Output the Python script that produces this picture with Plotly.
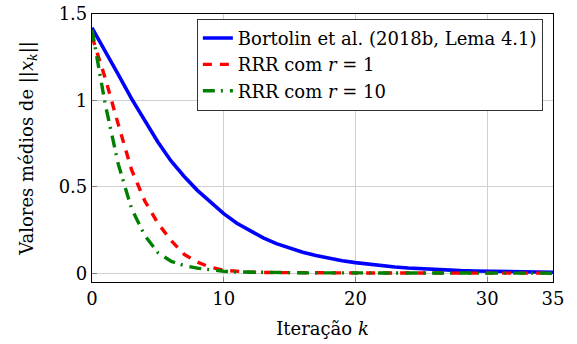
import plotly.graph_objects as go

k = list(range(36))

bortolin = [1.42, 1.29, 1.15, 1.01, 0.88, 0.76, 0.65, 0.56, 0.48, 0.41,
            0.345, 0.29, 0.245, 0.205, 0.172, 0.145, 0.122, 0.103, 0.087, 0.073,
            0.062, 0.052, 0.044, 0.037, 0.031, 0.026, 0.022, 0.019, 0.016, 0.014,
            0.012, 0.011, 0.009, 0.008, 0.007, 0.006]

rrr_r1 = [1.37, 1.13, 0.86, 0.60, 0.42, 0.29, 0.19, 0.11, 0.065, 0.035,
          0.018, 0.011, 0.007, 0.005, 0.004, 0.004, 0.003, 0.003, 0.003, 0.003,
          0.003, 0.002, 0.002, 0.002, 0.002, 0.002, 0.002, 0.002, 0.002, 0.002,
          0.001, 0.001, 0.001, 0.001, 0.001, 0.001]

rrr_r10 = [1.41, 0.98, 0.63, 0.375, 0.22, 0.12, 0.07, 0.045, 0.03, 0.02,
           0.012, 0.008, 0.006, 0.005, 0.004, 0.004, 0.003, 0.003, 0.003, 0.003,
           0.003, 0.002, 0.002, 0.002, 0.002, 0.002, 0.002, 0.002, 0.002, 0.002,
           0.001, 0.001, 0.001, 0.001, 0.001, 0.001]

names = ["Bortolin et al. (2018b, Lema 4.1)",
         "RRR com <i>r</i> = 1",
         "RRR com <i>r</i> = 10"]

x_ticks = [0, 10, 20, 30, 35]
y_ticks = [0, 0.5, 1, 1.5]
y_tick_text = ["0", "0.5", "1", "1.5"]

FONT = "DejaVu Serif"

fig = go.Figure()
fig.add_trace(go.Scatter(x=k, y=bortolin, mode="lines", name=names[0],
                         legendgroup="a",
                         line=dict(color="#0000ff", width=3.6)))
fig.add_trace(go.Scatter(x=k, y=rrr_r1, mode="lines", name=names[1],
                         legendgroup="b",
                         line=dict(color="#ff0000", width=3.4, dash="9px,8px")))
fig.add_trace(go.Scatter(x=k, y=rrr_r10, mode="lines", name=names[2],
                         legendgroup="c",
                         line=dict(color="#008000", width=3.4, dash="12px,6px,2px,7px")))

fig.update_layout(
    width=577, height=344,
    margin=dict(l=92, r=24, t=14, b=62, autoexpand=False),
    paper_bgcolor="white", plot_bgcolor="white",
    font=dict(family=FONT, size=18, color="black"),
    showlegend=True,
    legend=dict(
        x=0.978, y=0.982, xanchor="right", yanchor="top",
        bgcolor="white", bordercolor="#333333", borderwidth=1,
        font=dict(family=FONT, size=18, color="black"),
        tracegroupgap=9,
        traceorder="normal",
    ),
    xaxis=dict(
        range=[0, 35], tickvals=x_ticks, ticktext=[str(v) for v in x_ticks],
        showgrid=True, gridcolor="#d0d0d0", gridwidth=1,
        showline=True, linecolor="black", linewidth=1.2, mirror=True,
        ticks="inside", ticklen=5, tickcolor="#808080",
        zeroline=False, automargin=False,
        title=dict(text="Iteração <i>k</i>", standoff=14,
                   font=dict(family=FONT, size=18)),
        tickfont=dict(family=FONT, size=18),
    ),
    yaxis=dict(
        range=[-0.05, 1.5], tickvals=y_ticks, ticktext=y_tick_text,
        showgrid=True, gridcolor="#d0d0d0", gridwidth=1,
        showline=True, linecolor="black", linewidth=1.2, mirror=True,
        ticks="inside", ticklen=5, tickcolor="#808080",
        zeroline=False, automargin=False, ticklabeloverflow="allow",
        title=dict(text="Valores médios de ||<i>x</i><sub><i>k</i></sub>||", standoff=20,
                   font=dict(family=FONT, size=18)),
        tickfont=dict(family=FONT, size=18),
    ),
)

fig.write_html("out.html",
               config={"displayModeBar": False},
               post_script="document.body.style.margin='0';document.body.style.padding='0';")
